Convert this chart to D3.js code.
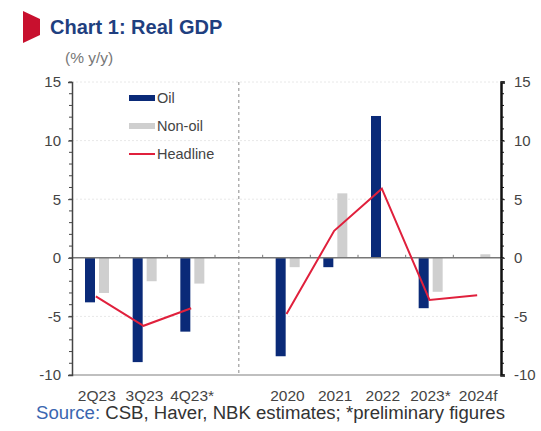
<!DOCTYPE html>
<html>
<head>
<meta charset="utf-8">
<script src="https://cdn.jsdelivr.net/npm/d3@7"></script>
<style>
  body { margin: 0; background: #fff; }
  text { font-family: "Liberation Sans", Arial, sans-serif; }
</style>
</head>
<body>
<div id="chart"></div>
<script>
// data
var categories = ["2Q23", "3Q23", "4Q23*", "", "2020", "2021", "2022", "2023*", "2024f"];
var oil      = [-3.8, -8.9, -6.3, null, -8.4, -0.8, 12.1, -4.3, 0];
var nonOil   = [-3.0, -2.0, -2.2, null, -0.8, 5.5, 0, -2.9, 0.3];
var headline = [-3.3, -5.8, -4.3, null, -4.8, 2.3, 5.9, -3.6, -3.2];
var yTicks = [-10, -5, 0, 5, 10, 15];

var W = 541, H = 431;
var svg = d3.select("#chart").append("svg")
    .attr("width", W).attr("height", H);

// title block
svg.append("polygon")
    .attr("points", "23,11 40,19 40,35 23,43")
    .attr("fill", "#c8102e");
svg.append("text").attr("x", 50).attr("y", 34)
    .attr("font-size", 20).attr("font-weight", "bold")
    .attr("fill", "#1f3f7f")
    .text("Chart 1: Real GDP");
svg.append("text").attr("x", 65).attr("y", 63)
    .attr("font-size", 15.5).attr("fill", "#777")
    .text("(% y/y)");

var pLeft = 72, pRight = 501, pTop = 82, pBottom = 375;

var x = d3.scaleBand().domain(d3.range(categories.length))
    .range([pLeft, pRight]);
var y = d3.scaleLinear().domain([-10, 15]).range([pBottom, pTop]);

// faint grid
svg.append("g").selectAll("line")
    .data(yTicks.filter(function(d) { return d !== 0 && d !== -10; }))
    .enter().append("line")
    .attr("x1", pLeft).attr("x2", pRight)
    .attr("y1", function(d) { return y(d); })
    .attr("y2", function(d) { return y(d); })
    .attr("stroke", "#e8e8e8").attr("stroke-dasharray", "2,2");

// divider between quarterly and annual
svg.append("line")
    .attr("x1", x(3) + x.bandwidth() / 2).attr("x2", x(3) + x.bandwidth() / 2)
    .attr("y1", pTop).attr("y2", pBottom)
    .attr("stroke", "#888").attr("stroke-dasharray", "3,3");

// bars
var bw = 10;
svg.append("g").selectAll("rect")
    .data(oil.map(function(v, i) { return {i: i, v: v}; }).filter(function(d) { return d.v !== null; }))
    .enter().append("rect")
    .attr("x", function(d) { return x(d.i) + 13; })
    .attr("width", bw)
    .attr("y", function(d) { return y(Math.max(0, d.v)); })
    .attr("height", function(d) { return Math.abs(y(d.v) - y(0)); })
    .attr("fill", "#0a2a78");

svg.append("g").selectAll("rect")
    .data(nonOil.map(function(v, i) { return {i: i, v: v}; }).filter(function(d) { return d.v !== null; }))
    .enter().append("rect")
    .attr("x", function(d) { return x(d.i) + 27; })
    .attr("width", bw)
    .attr("y", function(d) { return y(Math.max(0, d.v)); })
    .attr("height", function(d) { return Math.abs(y(d.v) - y(0)); })
    .attr("fill", "#cfcfcf");

// zero line and bottom line
svg.append("line").attr("x1", pLeft).attr("x2", pRight)
    .attr("y1", y(0)).attr("y2", y(0))
    .attr("stroke", "#777").attr("stroke-width", 1.5);
svg.append("line").attr("x1", pLeft).attr("x2", pRight)
    .attr("y1", y(-10)).attr("y2", y(-10))
    .attr("stroke", "#aaa").attr("stroke-width", 1.5);

// small category ticks on the zero line
svg.append("g").selectAll("line")
    .data(d3.range(1, categories.length))
    .enter().append("line")
    .attr("x1", function(d) { return x(d); })
    .attr("x2", function(d) { return x(d); })
    .attr("y1", y(0) - 3).attr("y2", y(0))
    .attr("stroke", "#777");

// headline line
var line = d3.line()
    .defined(function(d) { return d !== null; })
    .x(function(d, i) { return x(i) + x.bandwidth() / 2; })
    .y(function(d) { return y(d); });
svg.append("path").datum(headline)
    .attr("d", line)
    .attr("fill", "none").attr("stroke", "#e0203c").attr("stroke-width", 2);

// axes (plain hyphen for negatives, like the original)
var fmt = function(d) { return String(d); };
var minor = d3.range(-10, 16);
var yl = d3.axisLeft(y).tickValues(yTicks).tickFormat(fmt).tickSize(4).tickPadding(7);
var gl = svg.append("g").attr("transform", "translate(" + pLeft + ",0)").call(yl);
var yr = d3.axisRight(y).tickValues(yTicks).tickFormat(fmt).tickSize(4).tickPadding(9);
var gr = svg.append("g").attr("transform", "translate(" + pRight + ",0)").call(yr);
[gl, gr].forEach(function(g, k) {
    g.select(".domain").attr("stroke", k ? "#111" : "#444").attr("stroke-width", k ? 2.5 : 1.5);
    g.selectAll("text").attr("font-size", 15).attr("fill", "#444")
        .attr("font-family", "Liberation Sans, Arial, sans-serif");
    g.selectAll(".tick line").attr("stroke", "#444");
});
gl.append("g").selectAll("line").data(minor).enter().append("line")
    .attr("x1", -3).attr("x2", 0)
    .attr("y1", function(d) { return y(d); }).attr("y2", function(d) { return y(d); })
    .attr("stroke", "#444");
gr.append("g").selectAll("line").data(minor).enter().append("line")
    .attr("x1", 0).attr("x2", 3)
    .attr("y1", function(d) { return y(d); }).attr("y2", function(d) { return y(d); })
    .attr("stroke", "#111");

// x labels
svg.append("g").selectAll("text")
    .data(categories)
    .enter().append("text")
    .attr("x", function(d, i) { return x(i) + x.bandwidth() / 2 + 1; })
    .attr("y", 401)
    .attr("text-anchor", "middle")
    .attr("font-size", 15.5).attr("fill", "#444")
    .text(function(d) { return d; });

// legend
var legend = [
    {name: "Oil", color: "#0a2a78", h: 6},
    {name: "Non-oil", color: "#cfcfcf", h: 6},
    {name: "Headline", color: "#e0203c", h: 2}
];
var lg = svg.append("g").selectAll("g").data(legend).enter().append("g")
    .attr("transform", function(d, i) { return "translate(129," + (98 + i * 28) + ")"; });
lg.append("rect").attr("x", 0).attr("width", 26)
    .attr("y", function(d) { return -d.h / 2; })
    .attr("height", function(d) { return d.h; })
    .attr("fill", function(d) { return d.color; });
lg.append("text").attr("x", 28).attr("y", 5)
    .attr("font-size", 14.5).attr("fill", "#444")
    .text(function(d) { return d.name; });

// source
var src = svg.append("text").attr("x", 36).attr("y", 419).attr("font-size", 18)
    .attr("textLength", 469).attr("lengthAdjust", "spacingAndGlyphs");
src.append("tspan").attr("fill", "#3a66b0").text("Source: ");
src.append("tspan").attr("fill", "#333").text("CSB, Haver, NBK estimates; *preliminary figures");
</script>
</body>
</html>
